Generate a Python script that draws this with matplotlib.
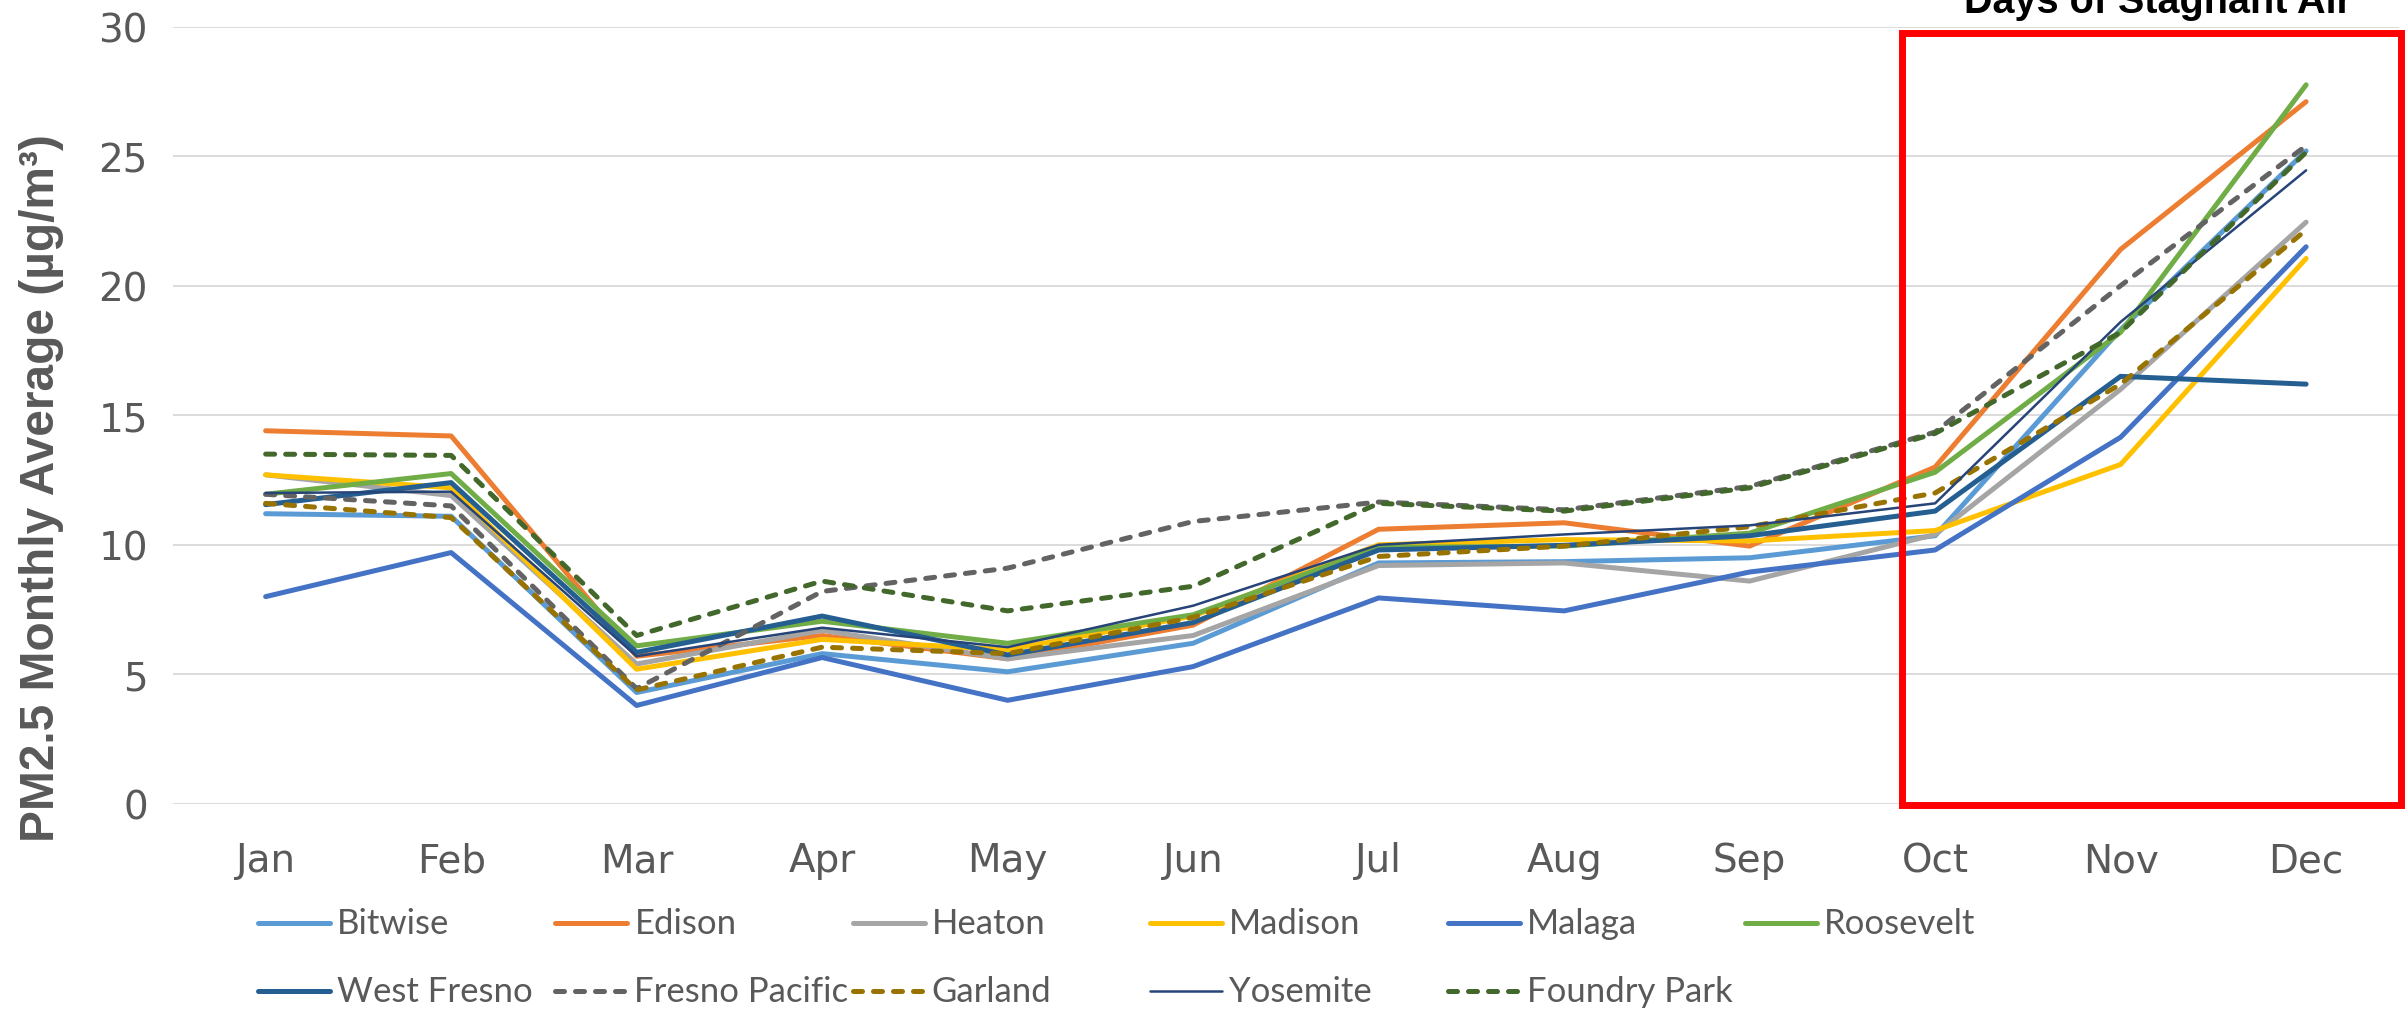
import matplotlib.pyplot as plt
from matplotlib.lines import Line2D
from matplotlib.patches import Rectangle

months = ['Jan', 'Feb', 'Mar', 'Apr', 'May', 'Jun', 'Jul', 'Aug', 'Sep', 'Oct', 'Nov', 'Dec']

# PM2.5 monthly averages per site (ug/m3)
bitwise = [11.2, 11.1, 4.3, 5.8, 5.1, 6.2, 9.3, 9.35, 9.5, 10.35, 18.3, 25.2]
edison = [14.4, 14.2, 5.7, 6.5, 5.6, 6.9, 10.6, 10.85, 9.95, 13.0, 21.4, 27.1]
heaton = [12.7, 11.9, 5.4, 6.7, 5.6, 6.5, 9.2, 9.3, 8.6, 10.4, 16.0, 22.45]
madison = [12.7, 12.2, 5.2, 6.35, 5.95, 7.25, 10.0, 10.2, 10.15, 10.55, 13.1, 21.05]
malaga = [8.0, 9.7, 3.8, 5.65, 4.0, 5.3, 7.95, 7.45, 8.95, 9.8, 14.15, 21.5]
roosevelt = [11.95, 12.75, 6.1, 7.05, 6.2, 7.3, 9.9, 9.95, 10.45, 12.8, 18.2, 27.75]
west_fresno = [11.55, 12.4, 5.85, 7.25, 5.75, 7.0, 9.8, 9.98, 10.35, 11.3, 16.5, 16.2]
fresno_pacific = [11.95, 11.5, 4.45, 8.2, 9.1, 10.9, 11.65, 11.35, 12.25, 14.35, 20.0, 25.4]
garland = [11.6, 11.05, 4.4, 6.05, 5.8, 7.2, 9.55, 9.95, 10.7, 12.0, 16.2, 22.15]
yosemite = [12.0, 12.05, 5.7, 6.8, 6.05, 7.65, 10.0, 10.4, 10.75, 11.6, 18.6, 24.45]
foundry_park = [13.5, 13.45, 6.5, 8.6, 7.45, 8.4, 11.6, 11.3, 12.2, 14.3, 18.2, 25.15]

dash = (0, (1.8, 2.2))
series = [
    ('Bitwise', bitwise, '#5B9BD5', '-', 3.6),
    ('Edison', edison, '#ED7D31', '-', 3.6),
    ('Heaton', heaton, '#A5A5A5', '-', 3.6),
    ('Madison', madison, '#FFC000', '-', 3.6),
    ('Malaga', malaga, '#4472C4', '-', 3.6),
    ('Roosevelt', roosevelt, '#70AD47', '-', 3.6),
    ('West Fresno', west_fresno, '#255E91', '-', 3.6),
    ('Fresno Pacific', fresno_pacific, '#636363', dash, 3.6),
    ('Garland', garland, '#997300', dash, 3.6),
    ('Yosemite', yosemite, '#264478', '-', 1.8),
    ('Foundry Park', foundry_park, '#43682B', dash, 3.6),
]

sans = ['Liberation Sans', 'DejaVu Sans']
grey = '#595959'

fig = plt.figure(figsize=(24.08, 10.12), dpi=100)
ax = fig.add_axes([0.0718, 0.2046, 0.9244, 0.7682])

x = list(range(len(months)))
for name, vals, color, ls, lw in series:
    ax.plot(x, vals, color=color, linestyle=ls, linewidth=lw,
            solid_capstyle='round', dash_capstyle='round',
            solid_joinstyle='round', dash_joinstyle='round')

ax.set_xlim(-0.5, 11.5)
ax.set_ylim(0, 30)
ax.set_yticks(range(0, 31, 5))
ax.set_xticks(x)
ax.set_xticklabels(months)
ax.grid(axis='y', color='#D9D9D9', linewidth=1.3)
ax.set_axisbelow(True)
for s in ax.spines.values():
    s.set_visible(False)
ax.tick_params(axis='x', length=0, pad=27, labelsize=28, labelcolor=grey)
ax.tick_params(axis='y', length=0, pad=18, labelsize=28, labelcolor=grey)

# red box marking the stagnant air months
ax.add_patch(Rectangle((8.82, -0.04), 2.69, 29.8, fill=False, edgecolor='#FF0000',
                       linewidth=5, clip_on=False, zorder=5))
fig.text(0.896, 0.9876, 'Days of Stagnant Air', ha='center', va='baseline',
         fontsize=28.5, fontweight='bold', color='black', family=sans)

fig.text(42 / 2408, 0.518, 'PM2.5 Monthly Average (µg/m³)', rotation=90,
         ha='center', va='center', fontsize=34.5, fontweight='bold', color=grey, family=sans)

# legend: 6 equal columns, 2 rows
for i, (name, vals, color, ls, lw) in enumerate(series):
    row, col = divmod(i, 6)
    x0 = (258 + col * 297.4) / 2408
    y0 = 1 - (924 + row * 68) / 1012
    fig.add_artist(Line2D([x0, x0 + 72 / 2408], [y0, y0], color=color, linestyle=ls,
                          linewidth=lw, solid_capstyle='round', dash_capstyle='round'))
    fig.text(x0 + 79 / 2408, y0, name, ha='left', va='center', fontsize=25,
             color=grey, family=['Lato', 'DejaVu Sans'])

fig.savefig('out.png', dpi=100)
